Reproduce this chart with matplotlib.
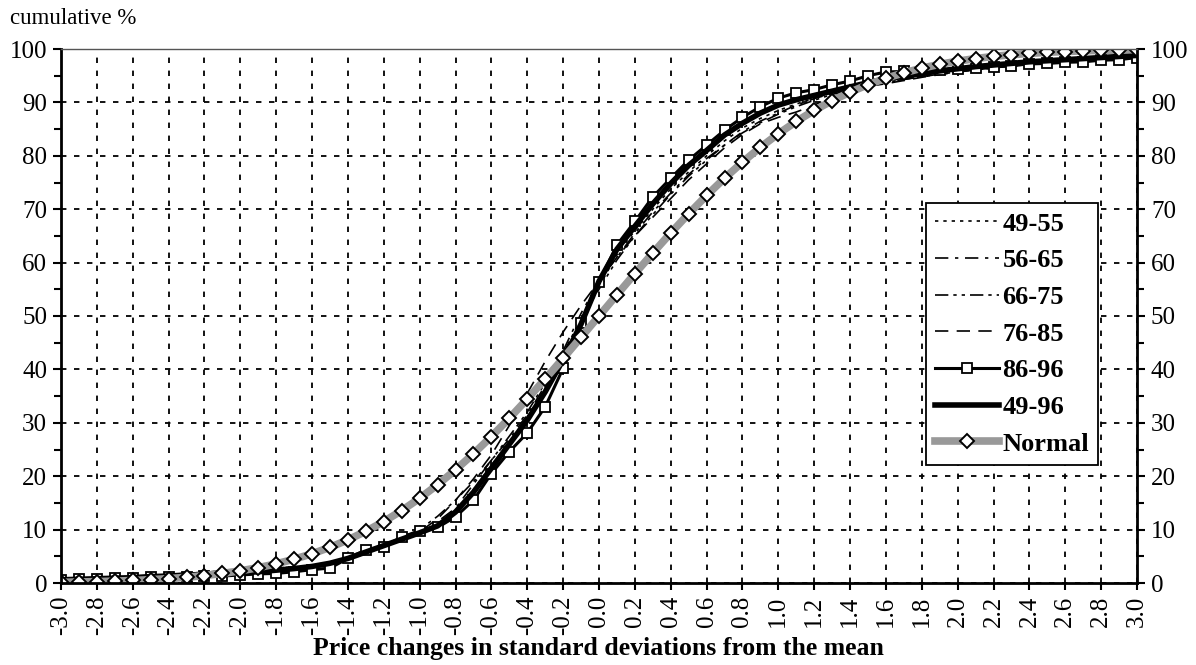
"""
Cumulative distribution of price changes vs. the normal curve
- values read off the reference picture, 0.1 sigma steps from -3 to 3
"""

import numpy as np
import matplotlib
matplotlib.use('Agg')
import matplotlib.pyplot as plt
from matplotlib.ticker import MultipleLocator

plt.rcParams['font.family'] = ['Liberation Serif', 'DejaVu Serif']
plt.rcParams['axes.unicode_minus'] = False

#=================================================================
# Data (cumulative %), x = -3.0 ... 3.0 in steps of 0.1

sigma = np.round(np.linspace(-3.0, 3.0, 61), 1)

p4955 = [0.8, 0.9, 1.0, 1.1, 1.3, 1.4, 1.6, 1.8, 2.0, 2.2,
         2.4, 2.6, 2.8, 3.0, 3.3, 3.8, 4.6, 5.6, 6.8, 8.0,
         9.3, 10.8, 13.5, 17.5, 22.0, 26.5, 31.0, 36.5, 42.5, 49.0,
         55.5, 61.5, 66.0, 70.0, 73.8, 77.0, 80.0, 82.8, 85.2, 87.0,
         88.5, 89.7, 90.8, 91.8, 92.6, 93.3, 94.0, 94.5, 95.0, 95.4,
         95.8, 96.2, 96.5, 96.9, 97.2, 97.5, 97.8, 98.0, 98.3, 98.5,
         98.7]

p5665 = [0.5, 0.6, 0.8, 0.9, 1.1, 1.3, 1.5, 1.7, 2.0, 2.3,
         2.5, 2.6, 2.8, 3.0, 3.3, 3.7, 4.5, 5.6, 6.8, 8.3,
         9.8, 11.5, 14.0, 18.5, 23.0, 27.0, 31.5, 37.0, 43.5, 50.5,
         56.5, 61.0, 65.5, 69.5, 73.0, 76.5, 79.5, 82.0, 84.5, 86.5,
         88.0, 89.5, 90.7, 91.7, 92.5, 93.2, 93.8, 94.3, 94.8, 95.3,
         95.7, 96.1, 96.4, 96.8, 97.1, 97.4, 97.7, 97.9, 98.2, 98.4,
         98.6]

p6675 = [0.4, 0.5, 0.6, 0.8, 1.0, 1.2, 1.4, 1.6, 1.8, 2.0,
         2.1, 2.3, 2.5, 2.8, 3.1, 3.6, 4.4, 5.5, 6.8, 8.4,
         10.0, 12.5, 15.5, 19.0, 23.0, 27.5, 32.0, 37.5, 43.0, 49.5,
         55.0, 60.5, 65.0, 69.0, 72.8, 76.2, 79.2, 82.0, 84.3, 86.2,
         87.8, 89.2, 90.4, 91.5, 92.3, 93.1, 93.7, 94.3, 94.8, 95.3,
         95.7, 96.1, 96.5, 96.8, 97.1, 97.4, 97.6, 97.9, 98.1, 98.3,
         98.5]

p7685 = [0.6, 0.7, 0.9, 1.0, 1.2, 1.4, 1.6, 1.8, 2.0, 2.2,
         2.4, 2.5, 2.7, 2.9, 3.2, 3.7, 4.6, 5.8, 7.0, 8.2,
         9.6, 12.0, 15.5, 19.5, 24.0, 29.5, 35.5, 41.5, 47.0, 52.0,
         56.5, 61.0, 65.0, 68.5, 72.0, 75.5, 78.5, 81.5, 84.0, 86.0,
         87.2, 88.2, 89.5, 91.0, 92.3, 93.0, 93.5, 94.1, 94.7, 95.2,
         95.7, 96.1, 96.5, 96.8, 97.1, 97.4, 97.7, 97.9, 98.2, 98.4,
         98.6]

p8696 = [0.6, 0.7, 0.8, 0.9, 1.0, 1.1, 1.2, 1.2, 1.3, 1.3,
         1.5, 1.7, 1.8, 2.1, 2.5, 2.8, 4.6, 6.2, 6.8, 8.6,
         9.8, 10.4, 12.4, 15.5, 20.5, 24.6, 28.1, 33.0, 40.2, 48.6,
         56.4, 63.3, 67.7, 72.3, 75.8, 79.2, 82.0, 84.8, 87.2, 89.2,
         90.8, 91.8, 92.4, 93.3, 94.0, 95.0, 95.7, 95.8, 95.9, 96.1,
         96.3, 96.4, 96.6, 96.9, 97.2, 97.3, 97.5, 97.6, 97.9, 98.0,
         98.4]

p4996 = [0.6, 0.7, 0.8, 0.9, 1.0, 1.2, 1.3, 1.5, 1.6, 1.8,
         1.9, 2.1, 2.4, 2.7, 3.1, 3.7, 4.6, 5.8, 7.0, 8.2,
         9.4, 10.7, 13.3, 17.0, 21.5, 26.0, 30.5, 35.8, 41.8, 48.5,
         56.5, 62.5, 66.8, 71.0, 74.8, 78.2, 81.0, 83.9, 86.1, 88.0,
         89.5, 90.5, 91.3, 92.1, 92.9, 93.7, 94.4, 94.9, 95.4, 95.9,
         96.3, 96.7, 97.0, 97.3, 97.6, 97.8, 98.0, 98.2, 98.4, 98.6,
         98.8]

normal = [0.13, 0.19, 0.26, 0.35, 0.47, 0.62, 0.82, 1.07, 1.39, 1.79,
          2.28, 2.87, 3.59, 4.46, 5.48, 6.68, 8.08, 9.68, 11.51, 13.57,
          15.87, 18.41, 21.19, 24.20, 27.43, 30.85, 34.46, 38.21, 42.07, 46.02,
          50.00, 53.98, 57.93, 61.79, 65.54, 69.15, 72.57, 75.80, 78.81, 81.59,
          84.13, 86.43, 88.49, 90.32, 91.92, 93.32, 94.52, 95.54, 96.41, 97.13,
          97.72, 98.21, 98.61, 98.93, 99.18, 99.38, 99.53, 99.65, 99.74, 99.81,
          99.87]

#=================================================================
# Figure

mydpi = 100
fig = plt.figure(figsize=(1196/mydpi, 665/mydpi), dpi=mydpi)
ax = fig.add_axes([61/1196, 1-583/665, (1137-61)/1196, (583-49)/665])

ax.plot(sigma, p4955, color='black', lw=1.2, ls=(0, (2, 3)), label='49-55')
ax.plot(sigma, p5665, color='black', lw=1.2, ls=(0, (8, 4, 2, 4)), label='56-65')
ax.plot(sigma, p6675, color='black', lw=1.2, ls=(0, (8, 3, 2, 3, 2, 3)), label='66-75')
ax.plot(sigma, p7685, color='black', lw=1.2, ls=(0, (8, 5)), label='76-85')
ax.plot(sigma, p8696, color='black', lw=2.2, marker='s', ms=7.5,
        mfc='white', mec='black', mew=1.3, label='86-96')
ax.plot(sigma, p4996, color='black', lw=4.0, label='49-96')
ax.plot(sigma, normal, color='#999999', lw=5.5, marker='D', ms=7,
        mfc='white', mec='black', mew=1.4, label='Normal')

ax.set_xlim(-3.0, 3.0)
ax.set_ylim(0, 100)

xt = np.round(np.arange(-3.0, 3.01, 0.2), 1)
ax.set_xticks(xt)
ax.set_xticklabels(['%.1f' % v if abs(v) > 1e-9 else '0.0' for v in xt],
                   rotation=90, fontsize=18)
ax.yaxis.set_major_locator(MultipleLocator(10))
ax.yaxis.set_minor_locator(MultipleLocator(5))

ax.tick_params(axis='y', which='both', direction='out', left=True, right=True,
               labelleft=True, labelright=True, labelsize=18, width=1.5)
ax.tick_params(axis='y', which='major', length=6, pad=4)
ax.tick_params(axis='y', which='minor', length=5)
ax.tick_params(axis='x', direction='out', length=5, width=1.5, pad=4)

ax.grid(True, which='major', color='black', lw=1.3, ls=(0, (3, 4.2)))

for side in ['left', 'right', 'bottom']:
    ax.spines[side].set_linewidth(2.0)
ax.spines['top'].set_linewidth(1.0)
ax.spines['top'].set_color('#555555')

leg = ax.legend(loc='upper left', bbox_to_anchor=(926/1196, 1-203/665),
                bbox_transform=fig.transFigure, fancybox=False,
                framealpha=1, edgecolor='black', handlelength=2.4,
                handletextpad=0.15, labelspacing=0.5, borderpad=0.35,
                borderaxespad=0, prop={'weight': 'bold', 'size': 19})
leg.get_frame().set_linewidth(1.3)

fig.text(10/1196, 1-19/665, 'cumulative %', fontsize=16.5, va='center', ha='left')
fig.text(0.5, 1-648/665, 'Price changes in standard deviations from the mean',
         fontsize=18.5, fontweight='bold', ha='center', va='center')

plt.savefig('out.png', dpi=mydpi)
